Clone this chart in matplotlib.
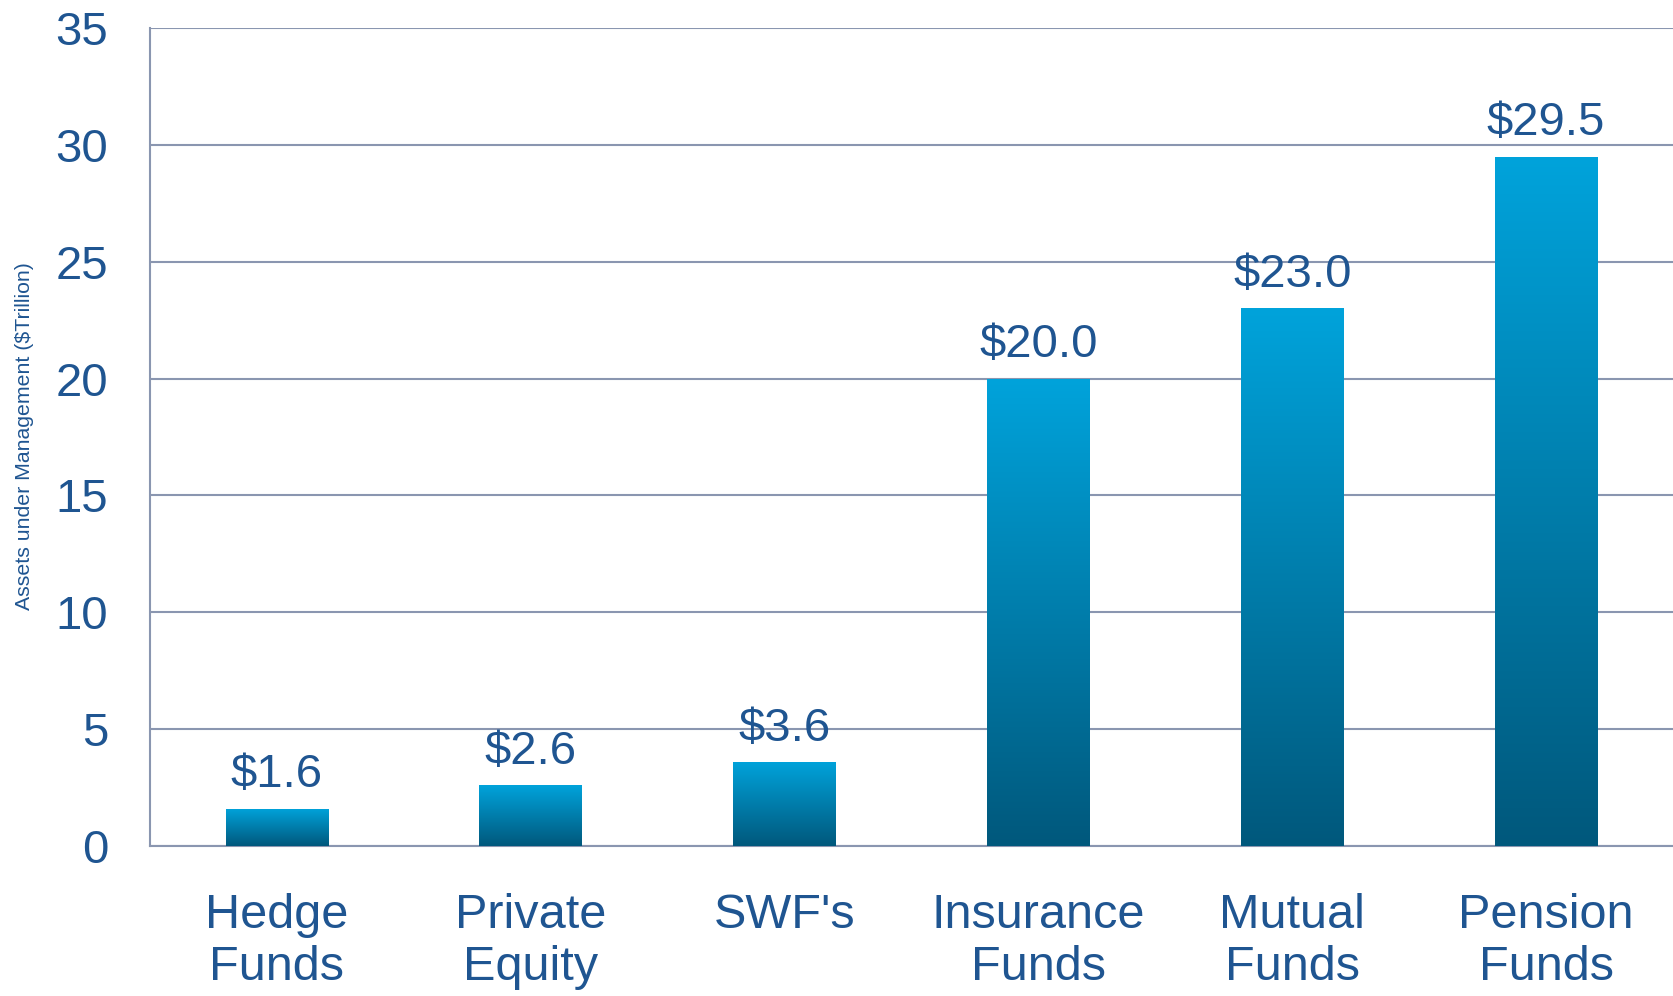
import numpy as np
import matplotlib
matplotlib.use('Agg')
import matplotlib.pyplot as plt
from matplotlib.colors import LinearSegmentedColormap

categories = ['Hedge\nFunds', 'Private\nEquity', "SWF's", 'Insurance\nFunds', 'Mutual\nFunds', 'Pension\nFunds']
values = [1.6, 2.6, 3.6, 20.0, 23.0, 29.5]
labels = ['$1.6', '$2.6', '$3.6', '$20.0', '$23.0', '$29.5']
yticks = [0, 5, 10, 15, 20, 25, 30, 35]

TEXT = '#1F5591'
GRID = '#8A96B0'
cmap = LinearSegmentedColormap.from_list('bar', ['#00587C', '#00A3DB'])

plt.rcParams['font.family'] = ['Liberation Sans', 'DejaVu Sans']

fig = plt.figure(figsize=(16.73, 9.96), dpi=100)
ax = fig.add_axes([0.0897, 0.1506, 0.9103, 0.8213])

x = np.arange(len(categories))
bars = ax.bar(x, values, width=0.405, color='none', zorder=3)

# gradient fill for each bar, from its top down to zero
grad = np.linspace(0, 1, 256).reshape(-1, 1)
for b in bars:
    x0, w, h = b.get_x(), b.get_width(), b.get_height()
    im = ax.imshow(grad, cmap=cmap, origin='lower', aspect='auto',
                   extent=[x0, x0 + w, 0, h], zorder=3)
    im.set_clip_path(b)

for xi, v, lab in zip(x, values, labels):
    ax.annotate(lab, (xi, v), xytext=(0, 8), textcoords='offset points',
                ha='center', va='bottom', fontsize=34, color=TEXT)

ax.set_xlim(-0.5, 5.5)
ax.set_ylim(0, 35)
ax.set_yticks(yticks)
ax.set_xticks(x)
ax.set_xticklabels(categories, fontsize=35, color=TEXT, linespacing=1.2)
ax.tick_params(axis='y', labelsize=34, labelcolor=TEXT, length=0, pad=30)
ax.tick_params(axis='x', length=0, pad=34)

ax.grid(axis='y', color=GRID, linewidth=1.5, zorder=0)
ax.set_axisbelow(True)
for s in ['top', 'right']:
    ax.spines[s].set_visible(False)
for s in ['left', 'bottom']:
    ax.spines[s].set_color(GRID)
    ax.spines[s].set_linewidth(1.5)

fig.text(0.0145, 0.562, 'Assets under Management ($Trillion)', rotation=90,
         ha='center', va='center', fontsize=15.3, color=TEXT)

fig.savefig('out.png', dpi=100)
